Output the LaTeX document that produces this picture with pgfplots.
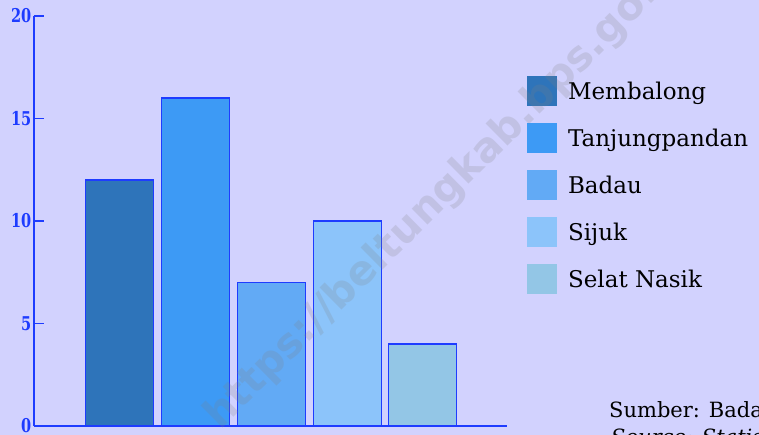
\documentclass[border=0pt]{standalone}
\usepackage{pgfplots}
\pgfplotsset{compat=1.18}
\usepackage{fontspec}
\newfontfamily\legfont{DejaVu Serif}
\newfontfamily\tickfont{DejaVu Serif Condensed}
\newfontfamily\wmfont{DejaVu Sans}
\definecolor{bgc}{RGB}{210,210,254}
\definecolor{axblue}{RGB}{30,60,255}
\definecolor{cA}{RGB}{46,116,186}
\definecolor{cB}{RGB}{61,154,245}
\definecolor{cC}{RGB}{98,170,245}
\definecolor{cD}{RGB}{140,196,250}
\definecolor{cE}{RGB}{147,198,230}
\begin{document}
\begin{tikzpicture}[x=1pt,y=1pt]
\fill[bgc] (0,0) rectangle (759,435);
\clip (0,0) rectangle (759,435);
\begin{axis}[
  at={(34pt,9pt)}, anchor=south west,
  scale only axis, width=473pt, height=410pt,
  xmin=-0.1306, xmax=6.109, ymin=0, ymax=20,
  axis x line=bottom, axis y line=left,
  axis line style={-, draw=axblue, line width=1.1pt},
  xtick=\empty,
  ytick={0,5,10,15,20},
  yticklabels={0,5,10,15,20},
  yticklabel style={font=\tickfont\bfseries\fontsize{19}{19}\selectfont, text=axblue, xscale=0.85, inner xsep=3pt},
  tick align=inside, major tick length=10pt,
  tick style={draw=axblue, line width=1.1pt},
  ybar, bar width=0.897, bar shift=0pt,
  clip=false,
  legend cell align=left,
  legend style={draw=none, fill=none, at={(1.042,0.854)}, anchor=north west,
    inner sep=0pt, row sep=17pt, column sep=5pt, font=\legfont\fontsize{23}{23}\selectfont,
    nodes={inner xsep=6pt, inner ysep=0pt}},
  legend image code/.code={\fill[#1,draw=none] (0pt,-15pt) rectangle (30pt,15pt);},
]
\addplot[fill=cA, draw=axblue, line width=1.1pt] coordinates {(1,12)};
\addlegendentry{Membalong}
\addplot[fill=cB, draw=axblue, line width=1.1pt] coordinates {(2,16)};
\addlegendentry{Tanjungpandan}
\addplot[fill=cC, draw=axblue, line width=1.1pt] coordinates {(3,7)};
\addlegendentry{Badau}
\addplot[fill=cD, draw=axblue, line width=1.1pt] coordinates {(4,10)};
\addlegendentry{Sijuk}
\addplot[fill=cE, draw=axblue, line width=1.1pt] coordinates {(5,4)};
\addlegendentry{Selat Nasik}
\end{axis}
\node[anchor=base west, inner sep=0pt, font=\legfont\fontsize{21}{21}\selectfont] at (609,17) {Sumber: Badan Pusat Statistik Kabupaten Belitung};
\node[anchor=base west, inner sep=0pt, font=\legfont\itshape\fontsize{21}{21}\selectfont] at (611,-10) {Source: Statistics of Belitung Regency};
\node[anchor=base west, inner sep=0pt, rotate=44.7, text=gray, opacity=0.2, font=\wmfont\bfseries\fontsize{41}{41}\selectfont] at (220,4) {https://beltungkab.bps.go.id};
\end{tikzpicture}
\end{document}
